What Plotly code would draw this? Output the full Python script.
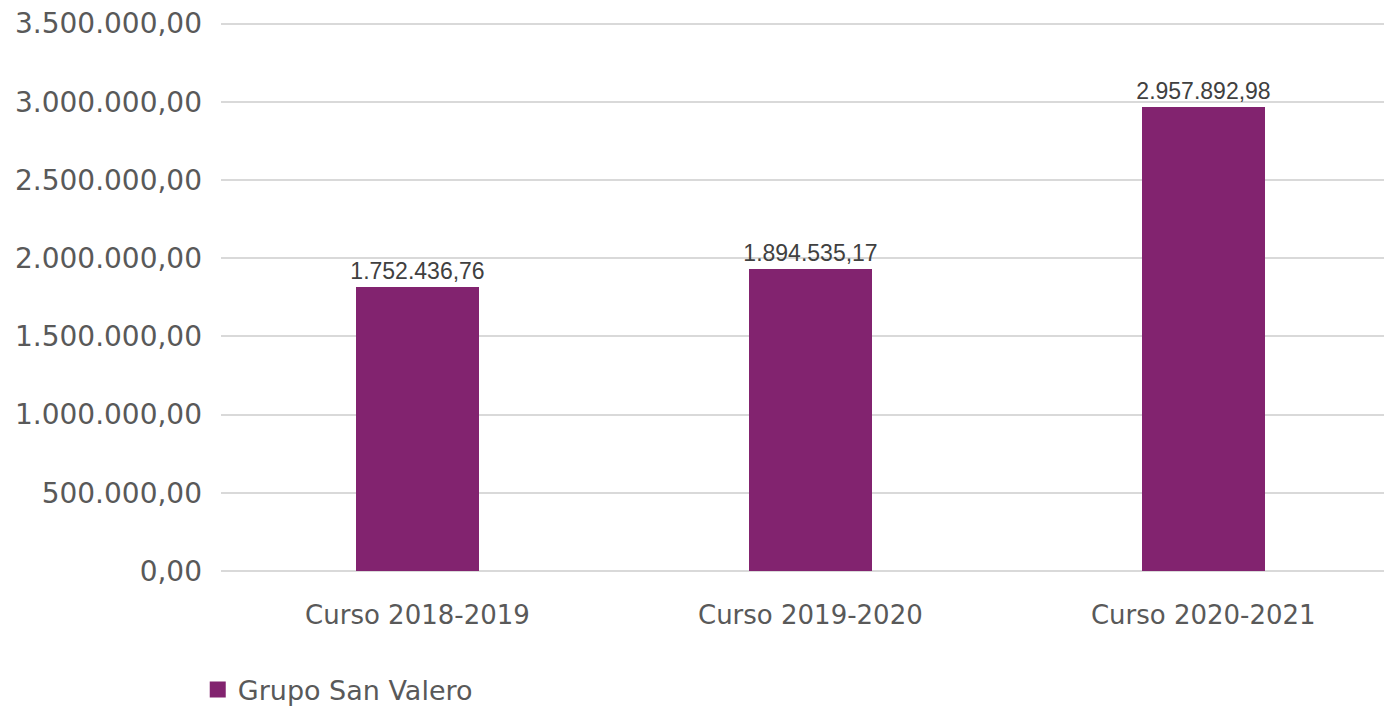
import plotly.graph_objects as go

categories = ["Curso 2018-2019", "Curso 2019-2020", "Curso 2020-2021"]
bar_values = [1818000, 1929000, 2968000]
label_texts = ["1.752.436,76", "1.894.535,17", "2.957.892,98"]
series_name = "Grupo San Valero"
y_ticks = [0, 500000, 1000000, 1500000, 2000000, 2500000, 3000000, 3500000]

color = "#82236F"

fig = go.Figure()
fig.add_trace(go.Bar(
    x=[0, 1, 2], y=bar_values, width=0.313,
    marker=dict(color=color, line=dict(width=0)),
    text=label_texts, textposition="outside", cliponaxis=False,
    constraintext="none",
    textfont=dict(family="Liberation Sans", size=23, color="#404040"),
    showlegend=False, name=series_name,
))
fig.add_trace(go.Scatter(
    x=[None], y=[None], mode="markers", name=series_name,
    marker=dict(symbol="square", size=20, color=color),
))

fig.update_layout(
    width=1376, height=699,
    margin=dict(l=213, r=0, t=14, b=135.5, autoexpand=False),
    paper_bgcolor="white", plot_bgcolor="white",
    separators=",.",
    bargap=0,
    showlegend=True,
    legend=dict(orientation="h", x=-0.02, xanchor="left", y=-0.172, yanchor="top",
                font=dict(family="DejaVu Sans", size=27, color="#595959"),
                itemsizing="trace", bgcolor="rgba(0,0,0,0)"),
)
fig.update_xaxes(
    tickmode="array", tickvals=[0, 1, 2], ticktext=categories,
    range=[-0.5, 2.46], showgrid=False, zeroline=False, showline=False,
    tickfont=dict(family="DejaVu Sans", size=26, color="#595959"),
    ticks="", ticklabelstandoff=26, automargin=False,
)
fig.update_yaxes(
    range=[0, 3510000], tickvals=y_ticks, tickformat=",.2f",
    showgrid=True, gridcolor="#d9d9d9", gridwidth=2,
    zeroline=True, zerolinecolor="#d9d9d9", zerolinewidth=2,
    showline=False, tickfont=dict(family="DejaVu Sans", size=28, color="#595959"),
    ticks="", ticklabelstandoff=18, automargin=False, ticklabeloverflow="allow",
)
fig.write_html("out.html")
